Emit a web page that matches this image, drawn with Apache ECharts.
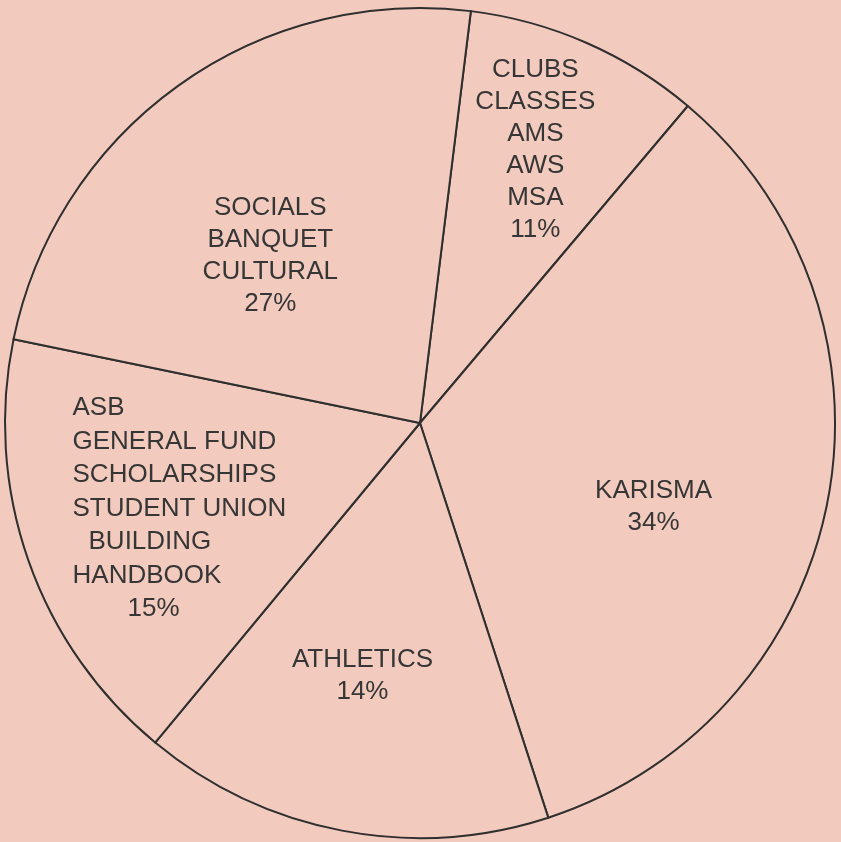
<!DOCTYPE html>
<html>
<head>
<meta charset="utf-8">
<script src="https://cdn.jsdelivr.net/npm/echarts@6/dist/echarts.min.js"></script>
<style>
  html, body { margin: 0; padding: 0; background: #f3cabe; }
  #chart { width: 841px; height: 842px; }
</style>
</head>
<body>
<div id="chart"></div>
<script>
// slice names, clockwise from the top
var names = ['CLUBS\nCLASSES\nAMS\nAWS\nMSA', 'KARISMA', 'ATHLETICS',
	'ASB\nGENERAL FUND\nSCHOLARSHIPS\nSTUDENT UNION\nBUILDING\nHANDBOOK', 'SOCIALS\nBANQUET\nCULTURAL'];
var shares = [9.2, 33.8, 16.0, 17.2, 23.7];
// percentages printed on the chart
var printed = ['11%', '34%', '14%', '15%', '27%'];
// label nudges from the default inside position
var labelDx = [31, 27, -18, -42, -27];
var labelDy = [-80, 43, 46, 16, 4];

var chart = echarts.init(document.getElementById('chart'));

var pieData = [];
for (var i = 0; i < names.length; i++) {
	var item = { value: shares[i], name: names[i] };
	if (i == 3) {
		item.label = {
			lineHeight: 33.5,
			formatter: function (p) {
				return '{l|ASB}\n{l|GENERAL FUND}\n{l|SCHOLARSHIPS}\n{l|STUDENT UNION}\n{b|BUILDING}\n{l|HANDBOOK}\n{p|' + printed[3] + '}';
			}
		};
	}
	pieData.push(item);
}

var txt = { fontFamily: 'Liberation Sans', fontSize: 26, color: '#363636', lineHeight: 33.5 };

var option = {
	backgroundColor: '#f3cabe',
	animation: false,
	series: [
		{
			type: 'pie',
			center: [420, 423],
			radius: 415,
			startAngle: 82.96,
			clockwise: true,
			data: pieData,
			itemStyle: {
				color: '#f3cabe',
				borderColor: '#2f2f2f',
				borderWidth: 2
			},
			label: {
				show: true,
				position: 'inside',
				fontFamily: 'Liberation Sans',
				fontSize: 26,
				lineHeight: 32,
				color: '#363636',
				formatter: function (p) {
					return p.name + '\n' + printed[p.dataIndex];
				},
				rich: {
					l: Object.assign({ align: 'left' }, txt),
					b: Object.assign({ align: 'left', padding: [0, 0, 0, 16] }, txt),
					p: Object.assign({ align: 'left', padding: [0, 0, 0, 55] }, txt)
				}
			},
			labelLine: { show: false },
			labelLayout: function (p) {
				return { dx: labelDx[p.dataIndex], dy: labelDy[p.dataIndex] };
			},
			emphasis: { disabled: true },
			silent: true
		}
	]
};
chart.setOption(option);
window.onresize = chart.resize;
</script>
</body>
</html>
